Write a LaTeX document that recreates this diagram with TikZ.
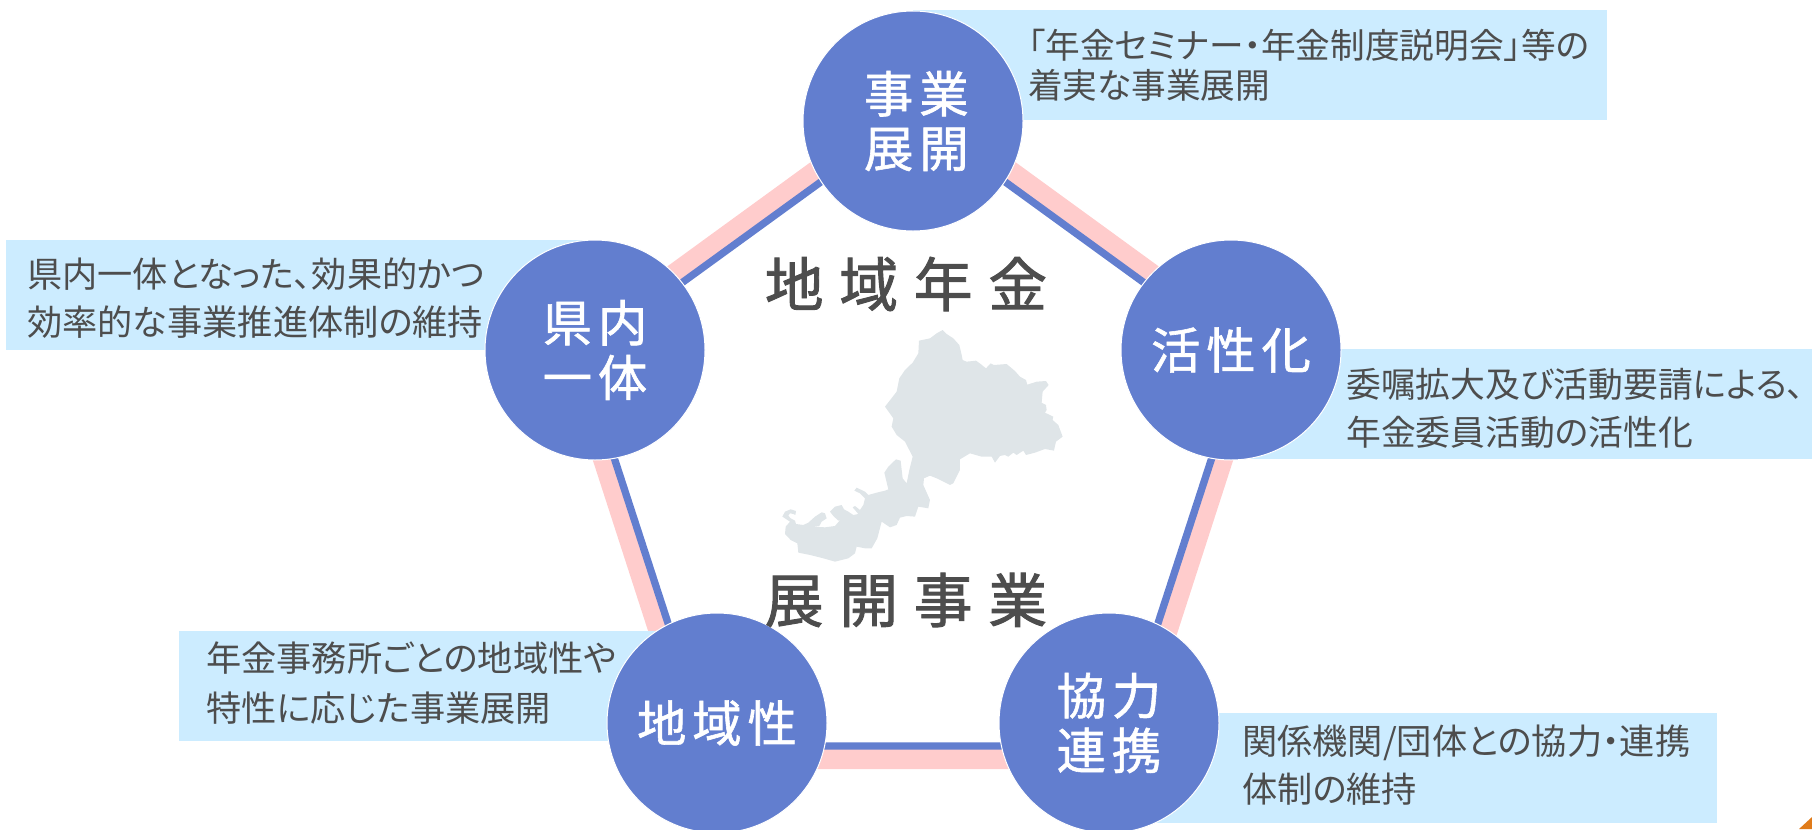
\documentclass[tikz,border=0pt]{standalone}
\usepackage{fontspec}
\newfontfamily\boxfont[RawFeature={+palt}]{Noto Sans CJK JP}
\newfontfamily\circlefont[LetterSpace=12,FakeBold=1.2]{Noto Sans CJK JP}
\newfontfamily\titlefont[LetterSpace=27,FakeBold=1.6]{Noto Sans CJK JP}
\definecolor{circleblue}{RGB}{98,126,207}
\definecolor{linepink}{RGB}{255,204,204}
\definecolor{boxblue}{RGB}{204,236,255}
\definecolor{inkgray}{RGB}{77,77,77}
\definecolor{mapgray}{RGB}{223,229,232}
\definecolor{cornerorange}{RGB}{224,123,26}
\tikzset{
  bluerim/.style={color=circleblue,line width=5.5pt},
  pinkrim/.style={color=linepink,line width=15pt},
  infobox/.style={fill=boxblue,draw=none},
  infotext/.style={anchor=west,inner sep=0pt,align=left,text=inkgray,font=\fontsize{26.4pt}{36pt}\boxfont},
  themecircle/.style={circle,fill=circleblue,draw=white,line width=0.75pt,minimum size=165pt,inner sep=0pt,text=white,align=center,font=\fontsize{37pt}{41pt}\circlefont},
  titletext/.style={inner sep=0pt,text=inkgray,font=\fontsize{44pt}{50pt}\titlefont}
}
\begin{document}
\begin{tikzpicture}[x=0.75pt,y=0.75pt,yscale=-1,xscale=1]
    \useasboundingbox (0,0) rectangle (1812,829);

    %Pentagon corners, hidden by the circles
    \coordinate (pinkTop) at (913,100);
    \coordinate (pinkRight) at (1258,351);
    \coordinate (pinkLow) at (1126,759);
    \coordinate (pinkBack) at (700,759);
    \coordinate (pinkLeft) at (568,351);
    \coordinate (blueTop) at (913,115);
    \coordinate (blueRight) at (1245,356);
    \coordinate (blueLow) at (1118,746);
    \coordinate (blueBack) at (708,746);
    \coordinate (blueLeft) at (581,356);

    %Pink pentagon
    \draw [pinkrim] (pinkTop) -- (pinkRight) -- (pinkLow) -- (pinkBack) -- (pinkLeft) -- cycle;
    %Blue pentagon
    \draw [bluerim] (blueTop) -- (blueRight) -- (blueLow) -- (blueBack) -- (blueLeft) -- cycle;

    %Boxes
    \fill [infobox] (913,10) rectangle (1607,120);
    \fill [infobox] (6,240) rectangle (595,350);
    \fill [infobox] (1231,349) rectangle (1812,459);
    \fill [infobox] (179,631) rectangle (717,741);
    \fill [infobox] (1109,713) rectangle (1717,823);

    %Map
    \begin{scope}[shift={(740,310)},scale=0.3333]
    \fill [mapgray] (608,60) -- (620,72) -- (640,85) -- (658,105) -- (664,130) -- (668,150) -- (680,155) -- (708,152) -- (722,162) -- (738,175) -- (752,160) -- (762,165) -- (800,162) -- (825,183) -- (840,200) -- (858,210) -- (862,224) -- (890,215) -- (918,213) -- (926,225) -- (908,245) -- (905,278) -- (918,285) -- (920,300) -- (915,308) -- (940,320) -- (938,330) -- (955,345) -- (968,380) -- (948,395) -- (942,422) -- (915,417) -- (885,428) -- (858,435) -- (850,422) -- (830,435) -- (820,428) -- (805,440) -- (795,435) -- (780,438) -- (765,458) -- (755,440) -- (725,440) -- (690,430) -- (660,448) -- (660,480) -- (640,520) -- (630,525) -- (590,505) -- (570,497) -- (552,505) -- (550,525) -- (570,570) -- (565,595) -- (535,590) -- (525,620) -- (500,618) -- (480,623) -- (470,645) -- (450,652) -- (425,635) -- (412,685) -- (395,715) -- (375,715) -- (350,710) -- (345,730) -- (325,745) -- (285,755) -- (250,745) -- (210,735) -- (175,728) -- (172,700) -- (152,690) -- (135,672) -- (137,650) -- (150,635) -- (127,620) -- (135,605) -- (152,598) -- (168,603) -- (166,615) -- (160,612) -- (150,610) -- (145,617) -- (152,625) -- (165,632) -- (168,642) -- (190,645) -- (205,638) -- (225,620) -- (245,607) -- (255,610) -- (260,625) -- (245,635) -- (238,648) -- (220,650) -- (255,652) -- (285,648) -- (302,628) -- (295,632) -- (280,618) -- (270,605) -- (285,590) -- (305,585) -- (312,598) -- (325,605) -- (340,615) -- (355,612) -- (338,592) -- (345,588) -- (360,600) -- (370,585) -- (375,565) -- (360,550) -- (343,542) -- (350,533) -- (375,545) -- (385,555) -- (410,548) -- (435,542) -- (445,538) -- (433,488) -- (445,470) -- (468,448) -- (482,452) -- (488,505) -- (500,520) -- (508,480) -- (518,440) -- (495,395) -- (470,375) -- (455,350) -- (460,325) -- (435,290) -- (470,245) -- (478,205) -- (495,180) -- (518,158) -- (535,130) -- (537,92) -- (570,85) -- (590,70) -- cycle;
    \end{scope}

    %Corner mark
    \fill [cornerorange] (1799,829) -- (1812,817) -- (1812,829) -- cycle;

    %Circles
    \node [themecircle] (jigyo) at (913,121) {\hspace{5pt}事業\\\hspace{5pt}展開};
    \node [themecircle] (kasseika) at (1231,350) {活性化};
    \node [themecircle] (kyoryoku) at (1109,723) {協力\\連携};
    \node [themecircle] (chiikisei) at (717,723) {地域性};
    \node [themecircle] (kennai) at (595,350) {県内\\一体};

    % Text Node
    \node [titletext] (titleUp) at (906,284) {地域年金};
    \node [titletext] (titleDown) at (906,600) {展開事業};
    \node [infotext,font=\fontsize{26pt}{36pt}\boxfont] (noteTop) at (1028,65) {「年金セミナー・年金制度説明会」等の\\[-6pt]着実な事業展開};
    \node [infotext] (noteLeft) at (27,298) {県内一体となった、効果的かつ\\効率的な事業推進体制の維持};
    \node [infotext,font=\fontsize{26.1pt}{36pt}\boxfont] (noteRight) at (1346,408) {委嘱拡大及び活動要請による、\\年金委員活動の活性化};
    \node [infotext] (noteBack) at (206,683) {年金事務所ごとの地域性や\\[2pt]特性に応じた事業展開};
    \node [infotext] (noteLow) at (1242,765) {関係機関/団体との協力・連携\\体制の維持};
\end{tikzpicture}
\end{document}
